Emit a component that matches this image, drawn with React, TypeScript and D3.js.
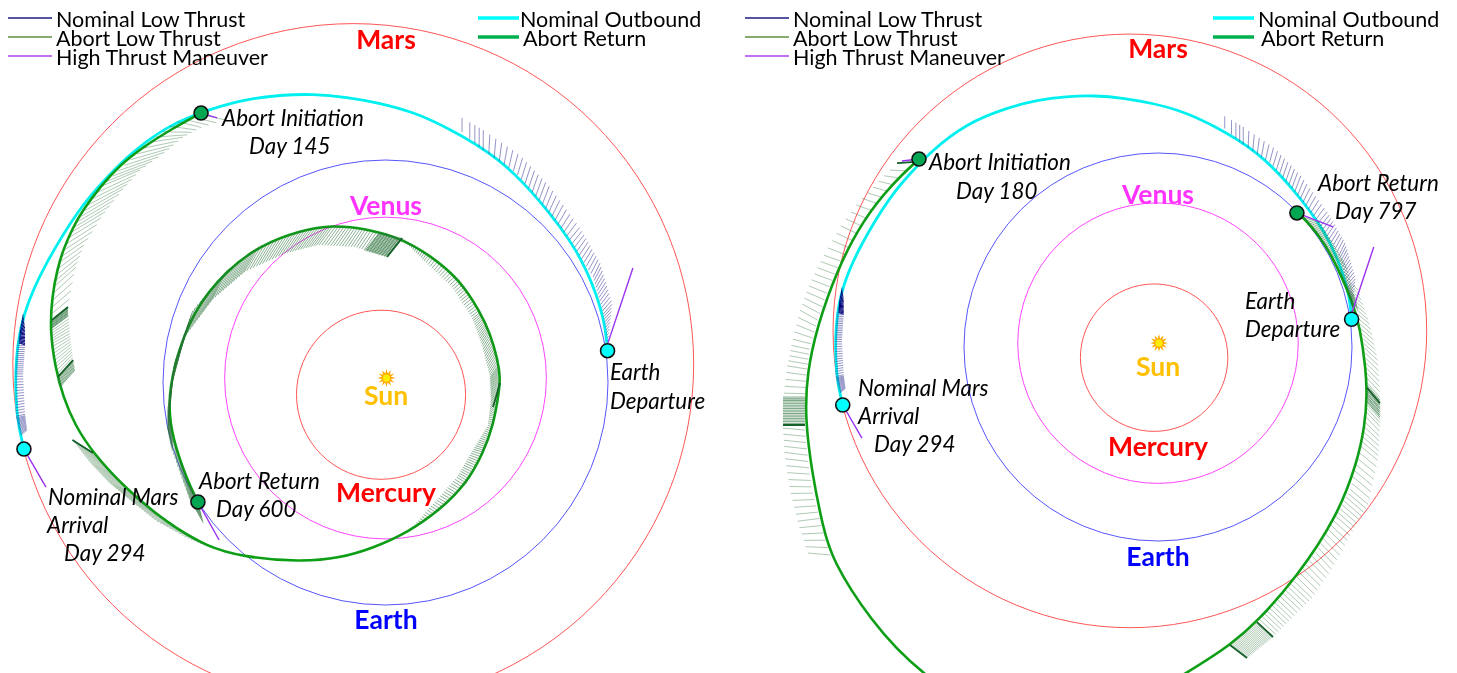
import React from "react";
import * as d3 from "d3";

type P = [number, number];

// Heliocentric positions, astronomical units. Orbits: centre x, centre y, radius.
const planetNames = ["Mars", "Earth", "Venus", "Mercury"];
const orbitCx = [-0.145, 0, 0, -0.02];
const orbitCy = [0.083, 0, 0.02, -0.055];
const orbitR = [1.53, 1, 0.723, 0.38];
const orbitColors = ["#ff5555", "#5555ff", "#ff44ff", "#ff5555"];

const nominalOutbound: P[] = [[.998,.143],[.987,.258],[.951,.393],[.865,.596],[.694,.82],[.515,1.009],[.276,1.148],[.124,1.216],[-.025,1.256],[-.173,1.283],[-.326,1.297],[-.474,1.292],[-.622,1.274],[-.775,1.234],[-.985,1.155],[-1.175,1.005],[-1.274,.897],[-1.373,.789],[-1.539,.519],[-1.629,.312],[-1.665,.115],[-1.661,-.155],[-1.625,-.299]];
const abortReturnA: P[] = [[-.829,1.211],[-.969,1.135],[-1.09,1.058],[-1.193,.978],[-1.283,.879],[-1.36,.775],[-1.404,.699],[-1.449,.596],[-1.476,.506],[-1.499,.384],[-1.508,.236],[-1.485,.07],[-1.449,-.065],[-1.396,-.191],[-1.315,-.317],[-1.162,-.483],[-.982,-.631],[-.802,-.739],[-.64,-.784],[-.384,-.807],[-.204,-.789],[-.056,-.744],[.097,-.676],[.245,-.573],[.366,-.452],[.438,-.317],[.483,-.2],[.512,-.035],[.515,.025],[.505,.1],[.47,.222],[.425,.317],[.335,.461],[.2,.573],[.065,.649],[-.084,.69],[-.236,.708],[-.384,.683],[-.564,.616],[-.712,.506],[-.865,.326],[-.955,.07],[-.978,-.11],[-.955,-.258],[-.892,-.438],[-.843,-.537]];
const abortReturnB: P[] = [[-1.232,.969],[-1.366,.845],[-1.521,.655],[-1.655,.397],[-1.758,.103],[-1.809,-.134],[-1.82,-.361],[-1.784,-.649],[-1.727,-.928],[-1.68,-1.098],[-1.485,-1.407],[-1.237,-1.68],[-.814,-1.948],[-.299,-1.948],[.216,-1.639],[.371,-1.536],[.51,-1.418],[.716,-1.186],[.923,-.876],[1.026,-.598],[1.067,-.402],[1.077,-.247],[1.072,-.119],[1.041,.103],[1.005,.227],[.902,.464],[.82,.588],[.747,.67],[.716,.691]];

// Low-thrust vector bands: where the vectors start and end, read along the arc.
const nomOutBase: P[] = [[.344,1.126],[.438,1.045],[.582,.946],[.708,.798],[.829,.64],[.933,.474],[.978,.312],[1,.178]];
const nomOutTip: P[] = [[.344,1.189],[.438,1.135],[.604,1.022],[.739,.879],[.874,.694],[.964,.537],[1.018,.357],[1,.178]];
const nomArrBase: P[] = [[-1.629,.312],[-1.656,.169],[-1.665,.034],[-1.661,-.155],[-1.638,-.236]];
const nomArrTip: P[] = [[-1.629,.312],[-1.62,.169],[-1.629,.034],[-1.62,-.146],[-1.611,-.213]];
const nomWedgeBase: P[] = [[-1.629,.312],[-1.643,.236],[-1.647,.178]];
const nomWedgeTip: P[] = [[-1.629,.312],[-1.62,.245],[-1.62,.169]];

const a1Base: P[] = [[-.798,1.198],[-.946,1.171],[-1.058,1.081],[-1.171,.978],[-1.283,.879],[-1.355,.766],[-1.418,.663],[-1.463,.542],[-1.494,.416],[-1.499,.281]];
const a1Tip: P[] = [[-.721,1.18],[-.834,1.144],[-.91,1.103],[-.991,1.036],[-1.103,.955],[-1.184,.865],[-1.27,.753],[-1.355,.618],[-1.396,.506],[-1.427,.339]];
const a2Base: P[] = [[-1.499,.281],[-1.499,.169],[-1.472,.025]];
const a2Tip: P[] = [[-1.427,.339],[-1.418,.213],[-1.404,.101]];
const a2aBase: P[] = [[-1.499,.281],[-1.499,.245]];
const a2aTip: P[] = [[-1.427,.339],[-1.427,.3]];
const a2bBase: P[] = [[-1.472,.025],[-1.463,-.02]];
const a2bTip: P[] = [[-1.404,.101],[-1.396,.056]];
const a3Base: P[] = [[-1.315,-.317],[-1.238,-.402],[-1.162,-.483],[-1.072,-.56],[-.982,-.631],[-.879,-.694],[-.766,-.753]];
const a3Tip: P[] = [[-1.407,-.258],[-1.33,-.357],[-1.245,-.447],[-1.148,-.528],[-1.036,-.618],[-.901,-.694],[-.766,-.753]];
const a4Base: P[] = [[.074,.649],[-.084,.69],[-.236,.708],[-.384,.683],[-.564,.616],[-.712,.506],[-.865,.326],[-.946,.101],[-.978,-.11],[-.955,-.258],[-.892,-.438],[-.843,-.537]];
const a4Tip: P[] = [[.007,.564],[-.137,.609],[-.303,.618],[-.452,.58],[-.631,.499],[-.78,.371],[-.906,.2],[-.96,-.011],[-.978,-.213],[-.96,-.303],[-.879,-.528],[-.82,-.631]];
const a4dBase: P[] = [[.074,.649],[-.025,.676]];
const a4dTip: P[] = [[.007,.564],[-.092,.593]];
const a5Base: P[] = [[.074,.649],[.2,.573],[.335,.461],[.425,.317],[.47,.222],[.506,.079],[.51,-.034],[.483,-.2],[.438,-.317],[.366,-.452],[.245,-.573],[.097,-.676]];
const a5Tip: P[] = [[.079,.64],[.178,.542],[.299,.429],[.389,.29],[.434,.169],[.47,.025],[.474,-.079],[.461,-.191],[.393,-.303],[.321,-.425],[.209,-.551],[.097,-.676]];

const b1Base: P[] = [[-1.253,.954],[-1.366,.845],[-1.459,.732],[-1.552,.577],[-1.639,.433],[-1.701,.294],[-1.753,.139],[-1.794,0],[-1.809,-.119],[-1.82,-.273]];
const b1Tip: P[] = [[-1.345,.948],[-1.433,.861],[-1.536,.758],[-1.639,.619],[-1.727,.464],[-1.794,.33],[-1.845,.191],[-1.887,.021],[-1.912,-.103],[-1.933,-.273]];
const b1dBase: P[] = [[-1.82,-.258],[-1.82,-.402]];
const b1dTip: P[] = [[-1.933,-.258],[-1.933,-.402]];
const b2Base: P[] = [[-1.82,-.428],[-1.804,-.582],[-1.784,-.737],[-1.742,-.892],[-1.691,-1.072]];
const b2Tip: P[] = [[-1.933,-.418],[-1.923,-.567],[-1.897,-.737],[-1.856,-.907],[-1.804,-1.062]];
const b3Base: P[] = [[1.005,.32],[1.031,.165],[1.067,-.015],[1.077,-.196],[1.072,-.325],[1.041,-.505],[.99,-.737],[.912,-.876],[.82,-1.046],[.706,-1.201],[.603,-1.314],[.51,-1.418]];
const b3Tip: P[] = [[1.031,.294],[1.093,.113],[1.134,-.077],[1.144,-.273],[1.144,-.402],[1.134,-.582],[1.082,-.814],[1,-.954],[.902,-1.134],[.799,-1.289],[.691,-1.397],[.593,-1.495]];
const b3dBase: P[] = [[1.077,-.196],[1.077,-.284]];
const b3dTip: P[] = [[1.144,-.273],[1.144,-.361]];
const b4Base: P[] = [[.51,-1.418],[.371,-1.536]];
const b4Tip: P[] = [[.593,-1.495],[.459,-1.603]];
const b5Base: P[] = [[.747,.67],[.835,.567],[.902,.464],[.964,.33],[1.005,.227]];
const b5Tip: P[] = [[.835,.639],[.902,.536],[.974,.412],[1.015,.258],[1.031,.191]];

// Single heavier vectors, start and end.
const darkA: [P, P][] = [[[-1.499,.281],[-1.427,.339]],[[-1.472,.025],[-1.404,.101]],[[-1.315,-.317],[-1.407,-.258]],[[.074,.649],[.007,.564]],[[.515,-.002],[.483,-.11]]];
const darkB: [P, P][] = [[[-1.253,.954],[-1.345,.948]],[[-1.82,-.402],[-1.933,-.402]],[[1.077,-.21],[1.144,-.29]],[[.51,-1.418],[.593,-1.495]],[[.371,-1.536],[.459,-1.603]]];

// High-thrust maneuvers.
const nominalManeuvers: [P, P][] = [[[1,.178],[1.112,.515]],[[-1.625,-.299],[-1.526,-.47]]];
const abortManeuversA: [P, P][] = [[[-.829,1.211],[-.757,1.189]],[[-.843,-.537],[-.748,-.708]]];
const abortManeuversB: [P, P][] = [[[-1.232,.969],[-1.32,.959]],[[.716,.691],[.902,.619]]];

const nominalBands = [
  { base: nomOutBase, tip: nomOutTip, count: 60, warp: 0.72, kind: "nav" },
  { base: nomArrBase, tip: nomArrTip, count: 60, warp: 1, kind: "nav" },
  { base: nomWedgeBase, tip: nomWedgeTip, count: 24, warp: 1, kind: "navDark" },
];
const bandsA = [
  { base: a1Base, tip: a1Tip, count: 38, warp: 0.9, kind: "grnLight" },
  { base: a2Base, tip: a2Tip, count: 20, warp: 1, kind: "grnLight" },
  { base: a2aBase, tip: a2aTip, count: 9, warp: 1, kind: "grnDense" },
  { base: a2bBase, tip: a2bTip, count: 9, warp: 1, kind: "grnDense" },
  { base: a3Base, tip: a3Tip, count: 60, warp: 1, kind: "grnLight" },
  { base: a4Base, tip: a4Tip, count: 140, warp: 1, kind: "grn" },
  { base: a4dBase, tip: a4dTip, count: 22, warp: 1, kind: "grnDense" },
  { base: a5Base, tip: a5Tip, count: 150, warp: 1, kind: "grn" },
];
const bandsB = [
  { base: b1Base, tip: b1Tip, count: 38, warp: 0.85, kind: "grnLight" },
  { base: b1dBase, tip: b1dTip, count: 18, warp: 1, kind: "grnDense" },
  { base: b2Base, tip: b2Tip, count: 20, warp: 1, kind: "grnLight" },
  { base: b3Base, tip: b3Tip, count: 80, warp: 1, kind: "grnLight" },
  { base: b3dBase, tip: b3dTip, count: 10, warp: 1, kind: "grnDense" },
  { base: b4Base, tip: b4Tip, count: 24, warp: 1, kind: "grnLight" },
  { base: b5Base, tip: b5Tip, count: 32, warp: 1, kind: "grn" },
];

const legendLeft = ["Nominal Low Thrust", "Abort Low Thrust", "High Thrust Maneuver"];
const legendLeftColors = ["#1a1a80", "#5f8f3f", "#b040f0"];
const legendRight = ["Nominal Outbound", "Abort Return"];
const legendRightColors = ["#00ffff", "#00b050"];

const raySpec: Record<string, { stroke: string; w: number; op: number }> = {
  nav: { stroke: "#2a2a90", w: 1, op: 0.5 },
  navDark: { stroke: "#00007a", w: 1, op: 1 },
  grn: { stroke: "#2a7038", w: 1, op: 0.55 },
  grnLight: { stroke: "#2a7038", w: 0.9, op: 0.42 },
  grnDense: { stroke: "#2f7540", w: 1, op: 0.65 },
};

function rays(base: P[], tip: P[], count: number, warp: number): [P, P][] {
  const bx = d3.piecewise(d3.interpolateNumber, base.map((p) => p[0]));
  const by = d3.piecewise(d3.interpolateNumber, base.map((p) => p[1]));
  const tx = d3.piecewise(d3.interpolateNumber, tip.map((p) => p[0]));
  const ty = d3.piecewise(d3.interpolateNumber, tip.map((p) => p[1]));
  return d3.range(count).map((i) => {
    const t = Math.pow(i / (count - 1), warp);
    return [[bx(t), by(t)], [tx(t), ty(t)]] as [P, P];
  });
}

const sunPoints = d3.range(24).map((i) => [(i * Math.PI) / 12, i % 2 ? 4.6 : 9] as [number, number]);

type LabelDef = [string, number, number];
interface PanelProps {
  cx: number; cy: number; s: number;
  abort: P[]; bands: typeof bandsA; dark: [P, P][]; maneuvers: [P, P][];
  names: LabelDef[]; notes: LabelDef[];
  markerGreen: P[];
}

function Panel({ cx, cy, s, abort, bands, dark, maneuvers, names, notes, markerGreen }: PanelProps) {
  const x = d3.scaleLinear().domain([-1, 1]).range([cx - s, cx + s]);
  const y = d3.scaleLinear().domain([-1, 1]).range([cy + s, cy - s]);
  const line = d3.line<P>().x((d) => x(d[0])).y((d) => y(d[1])).curve(d3.curveBasis);
  const seg = (a: [P, P]) => `M${x(a[0][0])},${y(a[0][1])}L${x(a[1][0])},${y(a[1][1])}`;
  const nameColor: Record<string, string> = { Mars: "#ff0000", Mercury: "#ff0000", Venus: "#ff33ff", Earth: "#0000ff", Sun: "#ffc000" };
  const sunPath = d3.lineRadial<[number, number]>().angle((d) => d[0]).radius((d) => d[1]).curve(d3.curveLinearClosed)(sunPoints) || "";
  return (
    <g>
      {planetNames.map((n, i) => (
        <circle key={n} cx={x(orbitCx[i])} cy={y(orbitCy[i])} r={s * orbitR[i]} fill="none" stroke={orbitColors[i]} strokeWidth={1} />
      ))}
      <path d={line(nominalOutbound) || ""} fill="none" stroke="#00f0f0" strokeWidth={2.8} />
      <path d={line(abort) || ""} fill="none" stroke="#0a9e14" strokeWidth={2.6} />
      {[...nominalBands, ...bands].map((b, i) => {
        const sp = raySpec[b.kind];
        return (
          <path key={i} d={rays(b.base, b.tip, b.count, b.warp).map(seg).join("")} fill="none" stroke={sp.stroke} strokeWidth={sp.w} strokeOpacity={sp.op} />
        );
      })}
      <path d={dark.map(seg).join("")} stroke="#14602a" strokeWidth={1.8} fill="none" />
      <path d={[...nominalManeuvers, ...maneuvers].map(seg).join("")} stroke="#9a30f0" strokeWidth={1.4} fill="none" />
      {[nominalOutbound[0], nominalOutbound[nominalOutbound.length - 1]].map((p, i) => (
        <circle key={i} cx={x(p[0])} cy={y(p[1])} r={7} fill="#00ffff" stroke="#111" strokeWidth={1.6} />
      ))}
      {markerGreen.map((p, i) => (
        <circle key={i} cx={x(p[0])} cy={y(p[1])} r={7} fill="#00a651" stroke="#111" strokeWidth={1.6} />
      ))}
      <g transform={`translate(${x(0) + 1},${y(0.02)})`}>
        <path d={sunPath} fill="#ffa800" />
        <circle r={3.6} fill="#ffee00" />
      </g>
      {names.map(([t, lx, ly]) => (
        <text key={t} x={lx} y={ly} textAnchor="middle" dy="0.35em" fontFamily="Lato, 'Open Sans', sans-serif" fontWeight={700} fontSize={26.5} fill={nameColor[t]}>{t}</text>
      ))}
      {notes.map(([t, lx, ly], i) => (
        <text key={i} x={lx} y={ly} dy="0.35em" fontFamily="Lato, 'Open Sans', sans-serif" fontStyle="italic" fontSize={22.4} fill="#000">{t}</text>
      ))}
    </g>
  );
}

function Legend({ left, right, gap }: { left: number; right: number; gap: number }) {
  const ys = [18, 37, 56];
  const rx = [0, 3];
  return (
    <g fontFamily="Lato, 'Open Sans', sans-serif" fontSize={21.5} fill="#000">
      {legendLeft.map((t, i) => (
        <g key={t}>
          <line x1={left} x2={left + 44} y1={ys[i]} y2={ys[i]} stroke={legendLeftColors[i]} strokeWidth={1.6} />
          <text x={left + 48} y={ys[i] + 1} dy="0.35em">{t}</text>
        </g>
      ))}
      {legendRight.map((t, i) => (
        <g key={t}>
          <line x1={right} x2={right + 41} y1={ys[i]} y2={ys[i]} stroke={legendRightColors[i]} strokeWidth={3.4} />
          <text x={right + gap + rx[i]} y={ys[i] + 1} dy="0.35em">{t}</text>
        </g>
      ))}
    </g>
  );
}

export default function App() {
  return (
    <div style={{ position: "absolute", left: 0, top: 0, width: 1457, height: 673, overflow: "hidden", background: "#fff" }}>
      <svg width={1457} height={673} style={{ display: "block" }}>
        <defs>
          <filter id="soft" x="0" y="0" width="1" height="1"><feGaussianBlur stdDeviation="0.35" /></filter>
        </defs>
        <g filter="url(#soft)">
          <Panel
            cx={385.5} cy={382.5} s={222.5}
            abort={abortReturnA} bands={bandsA} dark={darkA} maneuvers={abortManeuversA}
            markerGreen={[abortReturnA[0], abortReturnA[abortReturnA.length - 1]]}
            names={[["Mars", 386, 40], ["Venus", 386, 206], ["Sun", 386, 396], ["Mercury", 386, 493], ["Earth", 386, 620]]}
            notes={[["Abort Initiation", 222, 118], ["Day 145", 249, 146], ["Earth", 610, 372], ["Departure", 610, 401], ["Nominal Mars", 48, 497], ["Arrival", 47, 525], ["Day 294", 64, 553], ["Abort Return", 199, 481], ["Day 600", 216, 509]]}
          />
          <Panel
            cx={1158} cy={347} s={194}
            abort={abortReturnB} bands={bandsB} dark={darkB} maneuvers={abortManeuversB}
            markerGreen={[abortReturnB[0], abortReturnB[abortReturnB.length - 1]]}
            names={[["Mars", 1158, 49], ["Venus", 1158, 195], ["Sun", 1158, 367], ["Mercury", 1158, 447], ["Earth", 1158, 557]]}
            notes={[["Abort Initiation", 929, 162], ["Day 180", 956, 191], ["Abort Return", 1318, 183], ["Day 797", 1335, 211], ["Earth", 1245, 301], ["Departure", 1245, 329], ["Nominal Mars", 858, 388], ["Arrival", 858, 416], ["Day 294", 874, 444]]}
          />
          <Legend left={8} right={478} gap={42} />
          <Legend left={745} right={1213} gap={45} />
        </g>
      </svg>
    </div>
  );
}
